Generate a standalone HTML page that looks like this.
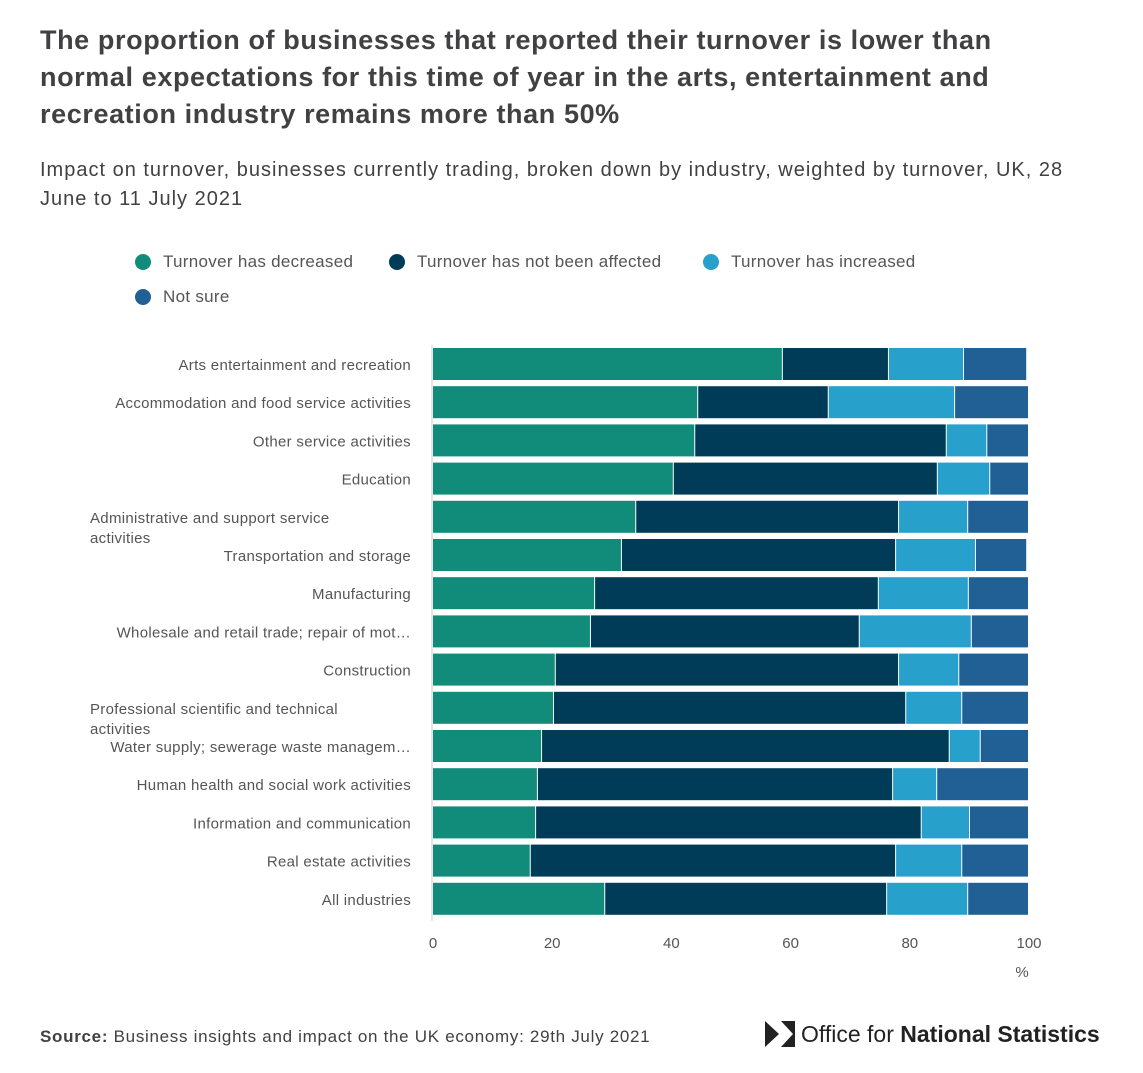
<!DOCTYPE html>
<html><head><meta charset="utf-8"><style>
body{margin:0;background:#fff;font-family:"Liberation Sans",sans-serif;}
#wrap{position:relative;width:1143px;height:1073px;overflow:hidden;}
h1{position:absolute;left:40px;top:22px;margin:0;font-size:27px;line-height:37px;color:#414042;font-weight:bold;width:1100px;letter-spacing:0.6px;white-space:nowrap;}
.sub{position:absolute;left:40px;top:156px;font-size:20px;line-height:29px;color:#414042;width:1100px;letter-spacing:1.0px;white-space:nowrap;}
.leg{position:absolute;font-size:17px;color:#555;display:flex;align-items:center;letter-spacing:0.3px;}
.leg i{display:inline-block;width:16px;height:16px;border-radius:50%;margin-right:12px;}
.src{position:absolute;left:40px;top:1027px;font-size:17px;color:#414042;letter-spacing:0.7px;}
</style></head><body>
<div id="wrap">
<h1>The proportion of businesses that reported their turnover is lower than<br>normal expectations for this time of year in the arts, entertainment and<br>recreation industry remains more than 50%</h1>
<div class="sub">Impact on turnover, businesses currently trading, broken down by industry, weighted by turnover, UK, 28<br>June to 11 July 2021</div>
<div class="leg" style="left:135px;top:252px"><i style="background:#118c7b"></i>Turnover has decreased</div>
<div class="leg" style="left:389px;top:252px"><i style="background:#003c57"></i>Turnover has not been affected</div>
<div class="leg" style="left:703px;top:252px"><i style="background:#27a0cc"></i>Turnover has increased</div>
<div class="leg" style="left:135px;top:287px"><i style="background:#206095"></i>Not sure</div>
<svg id="chart" width="1143" height="1073" style="position:absolute;left:0;top:0"></svg>
<div class="src"><b>Source:</b> Business insights and impact on the UK economy: 29th July 2021</div>
<div style="position:absolute;left:765px;top:1019px;display:flex;align-items:center;font-size:23px;color:#222">
<svg width="30" height="30" viewBox="0 0 30 30"><path d="M0 2 L14 15 L0 28 Z M16 2 L30 2 L30 28 L16 28 L28 15 Z" fill="#222"/></svg>
<span style="margin-left:6px">Office for <b>National Statistics</b></span></div>
</div>
<script>
const categories=["Arts entertainment and recreation","Accommodation and food service activities","Other service activities","Education","Administrative and support service activities","Transportation and storage","Manufacturing","Wholesale and retail trade; repair of mot…","Construction","Professional scientific and technical activities","Water supply; sewerage waste managem…","Human health and social work activities","Information and communication","Real estate activities","All industries"];
const decreased=[58.7,44.5,44.0,40.4,34.1,31.7,27.2,26.5,20.6,20.3,18.3,17.6,17.3,16.4,28.9];
const notAffected=[17.8,21.9,42.2,44.3,44.1,46.0,47.6,45.1,57.6,59.1,68.4,59.6,64.7,61.3,47.3];
const increased=[12.6,21.2,6.8,8.8,11.6,13.4,15.1,18.8,10.1,9.4,5.2,7.4,8.1,11.1,13.6];
const notSure=[10.6,12.4,7.0,6.5,10.2,8.6,10.1,9.6,11.7,11.2,8.1,15.4,9.9,11.2,10.2];
const ticks=[0,20,40,60,80,100];
const svg=document.getElementById('chart');const NS='http://www.w3.org/2000/svg';
const x0=433,x1=1029,top0=345,step=38.2,bh=32;
const xs=v=>x0+(x1-x0)*v/100;
const ys=i=>top0+i*step;
function mk(t,a){const e=document.createElementNS(NS,t);for(const k in a)e.setAttribute(k,a[k]);svg.appendChild(e);return e;}
const series=[[decreased,'#118c7b','decreased'],[notAffected,'#003c57','not-affected'],[increased,'#27a0cc','increased'],[notSure,'#206095','not-sure']];
const wrapNames={4:["Administrative and support service","activities"],9:["Professional scientific and technical","activities"]};
categories.forEach((c,i)=>{
  let acc=0;
  series.forEach(([arr,col,nm])=>{
    const r=mk('rect',{x:xs(acc),y:ys(i)+3,width:Math.max(0,xs(acc+arr[i])-xs(acc)-1),height:bh,fill:col});
    
    
    acc+=arr[i];
  });
  if(wrapNames[i]){
    wrapNames[i].forEach((ln,k)=>{const t=mk('text',{x:90,y:ys(i)+25+k*20,'font-size':15,fill:'#555','font-family':'Liberation Sans','letter-spacing':0.3});t.textContent=ln;
    });
  } else {
    const t=mk('text',{x:411,y:ys(i)+25,'font-size':15,fill:'#555','text-anchor':'end','font-family':'Liberation Sans','letter-spacing':0.3});t.textContent=c;
    
  }
});
const ax=mk('line',{x1:x0-1,x2:x0-1,y1:top0,y2:ys(categories.length)+3,stroke:'#ccc'});

ticks.forEach(v=>{const t=mk('text',{x:xs(v),y:948,'font-size':15,fill:'#555','text-anchor':'middle','font-family':'Liberation Sans'});t.textContent=v;
});
const u=mk('text',{x:1022,y:977,'font-size':15,fill:'#555','text-anchor':'middle','font-family':'Liberation Sans'});u.textContent='%';

</script>
</body></html>
